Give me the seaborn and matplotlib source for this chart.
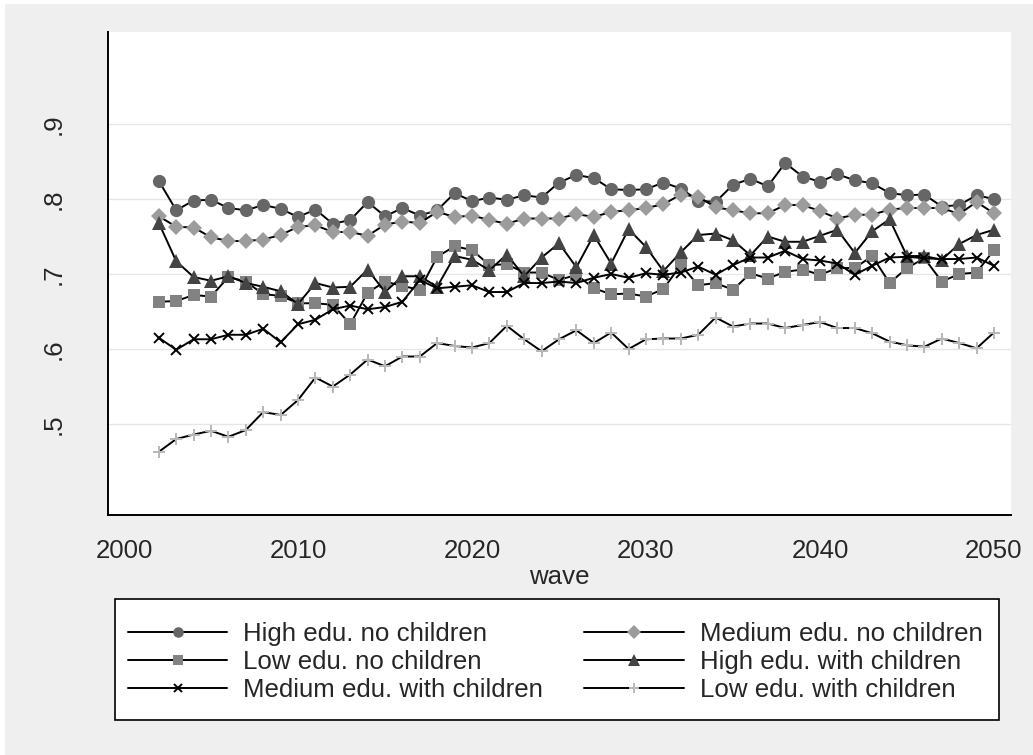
import matplotlib
matplotlib.use("Agg")
import matplotlib.pyplot as plt
import matplotlib.patches as mpatches
import numpy as np
import pandas as pd
import seaborn as sns

years = list(range(2002, 2051))

high_no_children = [0.824, 0.785, 0.798, 0.799, 0.788, 0.785, 0.792, 0.787, 0.776, 0.786,
                    0.767, 0.772, 0.796, 0.777, 0.788, 0.778, 0.785, 0.808, 0.797, 0.802,
                    0.799, 0.805, 0.802, 0.822, 0.832, 0.828, 0.813, 0.812, 0.813, 0.822,
                    0.814, 0.798, 0.796, 0.819, 0.827, 0.817, 0.848, 0.830, 0.823, 0.833,
                    0.825, 0.821, 0.808, 0.805, 0.806, 0.790, 0.792, 0.805, 0.800]
medium_no_children = [0.777, 0.763, 0.762, 0.749, 0.744, 0.744, 0.746, 0.752, 0.763, 0.765,
                      0.756, 0.756, 0.751, 0.766, 0.770, 0.768, 0.783, 0.776, 0.778, 0.772,
                      0.767, 0.774, 0.774, 0.774, 0.780, 0.776, 0.783, 0.785, 0.788, 0.793,
                      0.806, 0.803, 0.789, 0.785, 0.781, 0.781, 0.792, 0.792, 0.784, 0.774,
                      0.779, 0.779, 0.786, 0.788, 0.788, 0.788, 0.780, 0.796, 0.781]
low_no_children = [0.663, 0.664, 0.672, 0.670, 0.696, 0.690, 0.673, 0.671, 0.661, 0.661,
                   0.659, 0.633, 0.675, 0.690, 0.684, 0.679, 0.723, 0.737, 0.732, 0.712,
                   0.713, 0.702, 0.702, 0.692, 0.699, 0.681, 0.673, 0.674, 0.670, 0.680,
                   0.712, 0.685, 0.688, 0.679, 0.701, 0.694, 0.703, 0.706, 0.699, 0.708,
                   0.708, 0.724, 0.688, 0.708, 0.721, 0.690, 0.700, 0.702, 0.732]
high_with_children = [0.768, 0.717, 0.696, 0.691, 0.697, 0.688, 0.683, 0.677, 0.660, 0.688,
                      0.682, 0.683, 0.706, 0.676, 0.697, 0.697, 0.683, 0.724, 0.719, 0.705,
                      0.726, 0.697, 0.722, 0.741, 0.709, 0.752, 0.714, 0.760, 0.736, 0.704,
                      0.729, 0.752, 0.754, 0.745, 0.725, 0.750, 0.743, 0.743, 0.751, 0.759,
                      0.728, 0.757, 0.773, 0.724, 0.724, 0.719, 0.740, 0.752, 0.759]
medium_with_children = [0.615, 0.599, 0.613, 0.613, 0.619, 0.619, 0.627, 0.609, 0.633, 0.639,
                        0.653, 0.658, 0.653, 0.656, 0.663, 0.692, 0.681, 0.683, 0.685, 0.676,
                        0.676, 0.688, 0.688, 0.690, 0.688, 0.695, 0.700, 0.695, 0.701, 0.699,
                        0.702, 0.710, 0.699, 0.712, 0.722, 0.722, 0.731, 0.720, 0.718, 0.714,
                        0.699, 0.711, 0.722, 0.723, 0.721, 0.720, 0.720, 0.722, 0.711]
low_with_children = [0.463, 0.480, 0.486, 0.491, 0.483, 0.492, 0.516, 0.512, 0.532, 0.562,
                     0.550, 0.566, 0.586, 0.577, 0.590, 0.590, 0.608, 0.604, 0.602, 0.608,
                     0.631, 0.613, 0.597, 0.613, 0.625, 0.608, 0.622, 0.600, 0.613, 0.614,
                     0.614, 0.619, 0.642, 0.630, 0.634, 0.634, 0.628, 0.632, 0.636, 0.628,
                     0.628, 0.621, 0.610, 0.605, 0.603, 0.614, 0.608, 0.601, 0.622]

series_labels = ["High edu. no children", "Medium edu. no children", "Low edu. no children",
                 "High edu. with children", "Medium edu. with children", "Low edu. with children"]
series_values = [high_no_children, medium_no_children, low_no_children,
                 high_with_children, medium_with_children, low_with_children]

y_ticks = [0.5, 0.6, 0.7, 0.8, 0.9]
y_ticklabels = [".5", ".6", ".7", ".8", ".9"]
x_ticks = [2000, 2010, 2020, 2030, 2040, 2050]

styles = [
    dict(marker="o", markersize=9.5, markerfacecolor="#666666", markeredgecolor="#666666", mew=0),
    dict(marker="D", markersize=8.5, markerfacecolor="#9c9c9c", markeredgecolor="#9c9c9c", mew=0),
    dict(marker="s", markersize=9.0, markerfacecolor="#828282", markeredgecolor="#828282", mew=0),
    dict(marker="^", markersize=10.5, markerfacecolor="#444444", markeredgecolor="#444444", mew=0),
    dict(marker="x", markersize=7.0, markerfacecolor="black", markeredgecolor="black", mew=1.4),
    dict(marker="+", markersize=9.0, markerfacecolor="#b8b8b8", markeredgecolor="#b8b8b8", mew=1.4),
]

FS = 18.6

sns.set_style("white")
plt.rcParams["font.family"] = ["Liberation Sans", "DejaVu Sans"]

W, H = 1033, 755
fig = plt.figure(figsize=(W / 100, H / 100), dpi=100)
fig.patch.set_facecolor("white")
fig.patches.append(mpatches.Rectangle((5 / W, 0), 1, 1 - 4 / H, transform=fig.transFigure,
                                      facecolor="#efefef", edgecolor="none", zorder=-10))

left, right, top, bottom = 107.7, 1011, 32.3, 515
ax = fig.add_axes([left / W, 1 - bottom / H, (right - left) / W, (bottom - top) / H])
ax.set_facecolor("white")

for lab, vals, st in zip(series_labels, series_values, styles):
    df = pd.DataFrame({"wave": years, "value": vals})
    sns.lineplot(data=df, x="wave", y="value", ax=ax, color="black", linewidth=1.4,
                 label=lab, legend=False, **st)

ax.set_xlim(1999.06, 2050.98)
ax.set_ylim(0.3787, 1.0223)
ax.set_yticks(y_ticks)
ax.set_yticklabels(y_ticklabels, rotation=90, va="center")
ax.set_xticks(x_ticks)
ax.set_xticklabels([str(x) for x in x_ticks])
ax.yaxis.grid(True, color="#e6e6e6", linewidth=1.0)
ax.xaxis.grid(False)
ax.set_axisbelow(True)
for s in ["top", "right"]:
    ax.spines[s].set_visible(False)
for s in ["left", "bottom"]:
    ax.spines[s].set_color("black")
    ax.spines[s].set_linewidth(1.4)
ax.tick_params(axis="both", which="major", length=8, width=1.0, color="black",
               labelsize=FS, direction="out")
ax.tick_params(axis="y", pad=22.5)
ax.tick_params(axis="x", pad=9.5)
ax.set_xlabel("wave", fontsize=FS, labelpad=1)
ax.set_ylabel("")

# legend box
fig.patches.append(mpatches.Rectangle((115 / W, 1 - 720 / H), (999 - 115) / W, (720 - 599) / H,
                                      transform=fig.transFigure, facecolor="white",
                                      edgecolor="black", linewidth=1.2, zorder=1))

handles, labels = ax.get_legend_handles_labels()
order = [0, 2, 4, 1, 3, 5]
leg = fig.legend([handles[i] for i in order], [labels[i] for i in order], ncol=2,
                 loc="upper left", bbox_to_anchor=(128 / W, 1 - 622 / H),
                 fontsize=FS, frameon=False, handlelength=3.85, handletextpad=0.62,
                 columnspacing=1.58, borderpad=0, borderaxespad=0, labelspacing=0.16,
                 markerscale=0.8)

fig.savefig("out.png", dpi=100, facecolor=fig.get_facecolor())
